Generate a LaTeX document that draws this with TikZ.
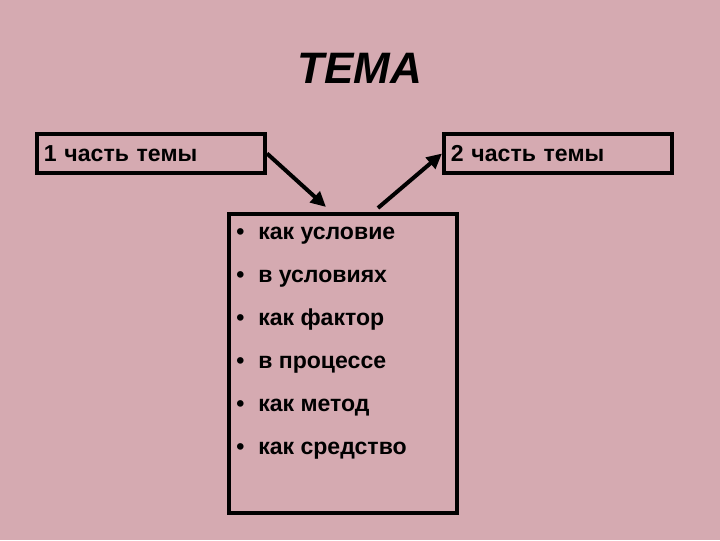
\documentclass[tikz,border=0pt]{standalone}
\usepackage{fontspec}
\setmainfont{Liberation Sans}
\usetikzlibrary{arrows.meta,calc}
\definecolor{bgpink}{RGB}{213,170,177}
\newcommand{\punkt}{\makebox[0.55cm][l]{\textbullet}}

\begin{document}
\begin{tikzpicture}[x=0.025cm, y=-0.025cm,
    box/.style={draw, line width=0.1cm, minimum width=5.7cm, minimum height=0.975cm, text width=5.35cm, inner xsep=0.15cm, align=left, font=\fontsize{16.4}{19}\selectfont\bfseries},
    frame/.style={draw, line width=0.1cm, minimum width=5.7cm, minimum height=7.475cm},
    item/.style={anchor=base west, inner sep=0pt, font=\fontsize{16.4}{19}\selectfont\bfseries},
    arr/.style={-{Triangle[length=0.38cm,width=0.36cm]}, line width=0.1cm}
]
\fill[bgpink] (0,0) rectangle (720,540);
\useasboundingbox (0,0) rectangle (720,540);

\node[anchor=base, font=\fontsize{31.3}{36}\selectfont\bfseries\itshape] (title) at (360,83) {ТЕМА};

\node[box] (part1) at (151,153.5) {1 часть темы};
\node[box] (part2) at (558,153.5) {2 часть темы};
\node[frame] (list) at (343,363.5) {};

\foreach \txt [count=\i] in {как условие, в условиях, как фактор, в процессе, как метод, как средство}
    \node[item] (item\i) at (236,{196+43*\i}) {\punkt\txt};

\draw[arr] (part1.east) -- ($(list.north)+(-17,-5)$);
\draw[arr] ($(list.north)+(35,-4)$) -- (part2.west);
\end{tikzpicture}
\end{document}
